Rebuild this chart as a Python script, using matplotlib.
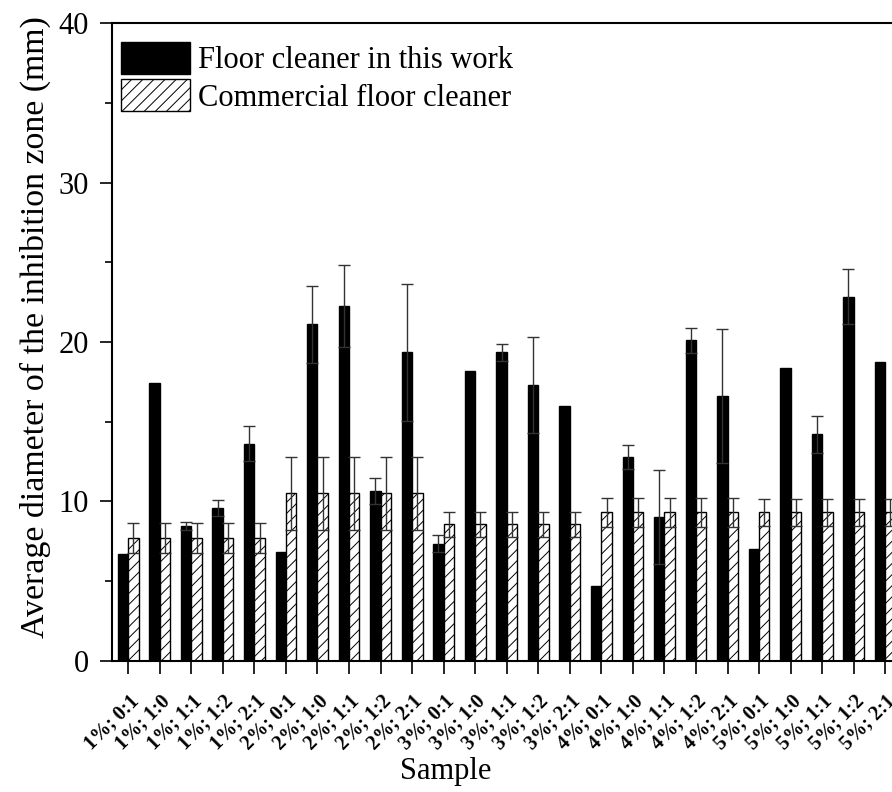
import numpy as np
import matplotlib
matplotlib.use('Agg')
import matplotlib.pyplot as plt
from matplotlib.ticker import MultipleLocator
from matplotlib.transforms import ScaledTranslation

# Amostras (concentracao; proporcao)
amostras = ['1%; 0:1', '1%; 1:0', '1%; 1:1', '1%; 1:2', '1%; 2:1',
            '2%; 0:1', '2%; 1:0', '2%; 1:1', '2%; 1:2', '2%; 2:1',
            '3%; 0:1', '3%; 1:0', '3%; 1:1', '3%; 1:2', '3%; 2:1',
            '4%; 0:1', '4%; 1:0', '4%; 1:1', '4%; 1:2', '4%; 2:1',
            '5%; 0:1', '5%; 1:0', '5%; 1:1', '5%; 1:2', '5%; 2:1']

# Floor cleaner in this work (mm) e desvios (nan = sem barra de erro)
este_trabalho = [6.7, 17.45, 8.45, 9.6, 13.6,
                 6.85, 21.1, 22.25, 10.65, 19.35,
                 7.35, 18.2, 19.35, 17.3, 16.0,
                 4.7, 12.8, 9.0, 20.1, 16.6,
                 7.0, 18.35, 14.2, 22.85, 18.75]
erro_este = [np.nan, np.nan, 0.25, 0.5, 1.1,
             np.nan, 2.4, 2.55, 0.8, 4.3,
             0.55, np.nan, 0.55, 3.0, np.nan,
             np.nan, 0.75, 2.95, 0.78, 4.2,
             np.nan, np.nan, 1.15, 1.7, np.nan]

# Commercial floor cleaner (mm) e desvios
comercial = [7.7, 7.7, 7.7, 7.7, 7.7,
             10.5, 10.5, 10.5, 10.5, 10.5,
             8.55, 8.55, 8.55, 8.55, 8.55,
             9.3, 9.3, 9.3, 9.3, 9.3,
             9.3, 9.3, 9.3, 9.3, 9.3]
erro_comercial = [0.97, 0.97, 0.97, 0.97, 0.97,
                  2.3, 2.3, 2.3, 2.3, 2.3,
                  0.8, 0.8, 0.8, 0.8, 0.8,
                  0.88, 0.88, 0.88, 0.88, 0.88,
                  0.84, 0.84, 0.84, 0.84, 0.84]


def gerar_grafico():
    plt.rcParams['font.family'] = ['Liberation Serif', 'DejaVu Serif']
    plt.rcParams['hatch.linewidth'] = 0.7

    fig = plt.figure(figsize=(8.92, 7.92), dpi=100)
    ax = fig.add_axes([0.1261, 0.1658, 0.884, 0.8048])

    x = np.arange(len(amostras))
    largura = 0.33
    estilo_erro = dict(ecolor='#333333', elinewidth=1.0, capsize=4.3, capthick=1.0)

    ax.bar(x, este_trabalho, width=-largura, align='edge', color='black',
           edgecolor='black', linewidth=1.0, yerr=erro_este,
           error_kw=estilo_erro, label='Floor cleaner in this work')
    ax.bar(x, comercial, width=largura, align='edge', color='white',
           edgecolor='black', linewidth=1.0, hatch='///', yerr=erro_comercial,
           error_kw=estilo_erro, label='Commercial floor cleaner')

    ax.set_xlim(-0.5, 24.5)
    ax.set_ylim(0, 40)
    ax.yaxis.set_major_locator(MultipleLocator(10))
    ax.yaxis.set_minor_locator(MultipleLocator(5))

    ax.set_xticks(x)
    ax.set_xticklabels(amostras, rotation=45, ha='right', va='top',
                       rotation_mode='anchor', fontweight='bold', fontsize=14.5)
    # desloca os rotulos um pouco para a direita, como no original
    deslocamento = ScaledTranslation(0.03, 0, fig.dpi_scale_trans)
    for rotulo in ax.get_xticklabels():
        rotulo.set_transform(rotulo.get_transform() + deslocamento)

    ax.tick_params(axis='x', which='major', direction='out', length=9, width=1.2, pad=13)
    ax.tick_params(axis='y', which='major', direction='out', length=9, width=1.2,
                   labelsize=22, pad=8)
    ax.tick_params(axis='y', which='minor', direction='out', length=5, width=1.2)

    for lado in ['left', 'bottom', 'top', 'right']:
        ax.spines[lado].set_linewidth(1.5)

    ax.set_xlabel('Sample', fontsize=22)
    ax.xaxis.set_label_coords(0.422, -0.151)
    ax.set_ylabel('Average diameter of the inhibition zone (mm)', fontsize=24.4)
    ax.yaxis.set_label_coords(-0.078, 0.524)

    ax.legend(loc='upper left', bbox_to_anchor=(0.011, 0.97), frameon=False,
              fontsize=22, borderpad=0, borderaxespad=0, handlelength=2.26,
              handleheight=1.21, handletextpad=0.26, labelspacing=0.13)

    fig.savefig('out.png', dpi=100)


if __name__ == '__main__':
    gerar_grafico()
